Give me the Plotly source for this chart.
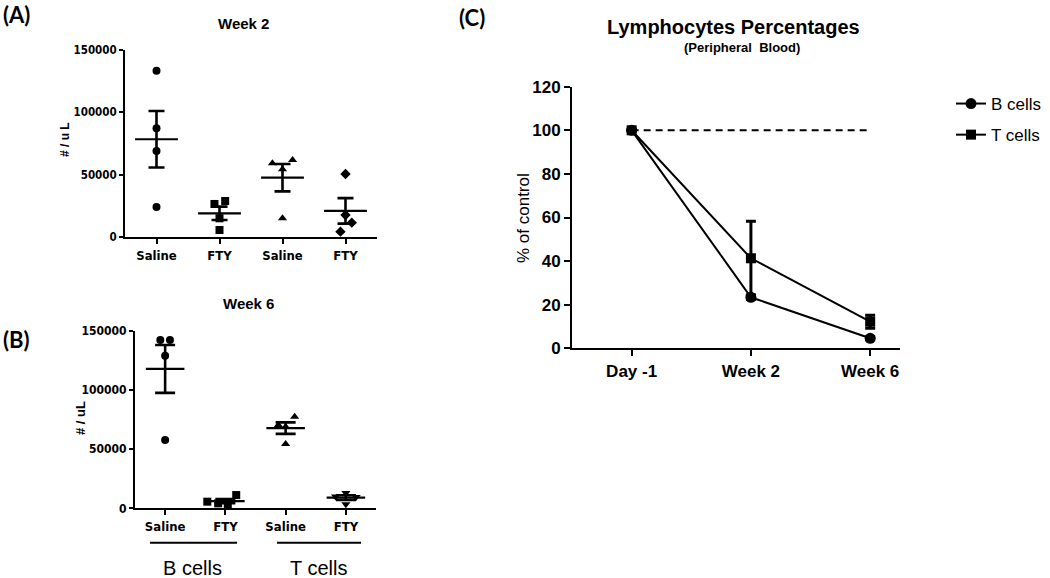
import numpy as np
import plotly.graph_objects as go

# ---------------- data ----------------
group_labels = ["Saline", "FTY", "Saline", "FTY"]

week2_saline_b = [133400, 87200, 69000, 24000]
week2_fty_b = [26500, 28900, 15000, 5600]
week2_saline_t = [59100, 61800, 54300, 15000]
week2_fty_t = [50500, 17600, 11500, 4300]

week6_saline_b = [142400, 142400, 129100, 57800]
week6_fty_b = [5600, 11200, 4200, 3600]
week6_saline_t = [70500, 69000, 77500, 54400]
week6_fty_t = [13000, 10000, 9500, 3500]

count_ticks = [0, 50000, 100000, 150000]
count_ticktext = ["0", "50000", "100000", "150000"]

timepoints = ["Day -1", "Week 2", "Week 6"]
b_pct = [100, 23.4, 4.6]
b_pct_sem = [0, 1.0, 0.8]
t_pct = [100, 41.3, 12.2]
t_pct_sem = [0, 17.0, 3.0]
control_pct = [100, 100, 100]
pct_ticks = [0, 20, 40, 60, 80, 100, 120]

# ---------------- style ----------------
W, H = 1050, 578
def px(x):
    return x / W
def py(y):
    return 1 - y / H

NARROW = "DejaVu Sans Condensed, Liberation Sans Narrow, sans-serif"
ARIAL = "Liberation Sans, Arial, sans-serif"
CAL = "Lato, Open Sans, sans-serif"

# horizontal jitter (category units) so overlapping dots are visible
jit_w2 = [[0, 0, 0, 0], [-0.08, 0.09, 0, 0], [-0.16, 0.16, 0, 0], [0, 0, 0.1, -0.08]]
jit_w6 = [[-0.08, 0.08, 0, 0], [-0.3, 0.18, -0.12, 0.04], [-0.12, 0, 0.15, 0], [0, -0.17, 0.17, 0]]

fig = go.Figure()

def add_dot_panel(groups, symbols, jit, xa, ya, cap, mean_hw, msize):
    for i, vals in enumerate(groups):
        v = np.array(vals, dtype=float)
        m = v.mean()
        sem = v.std(ddof=1) / np.sqrt(len(v))
        fig.add_trace(go.Scatter(x=[i - mean_hw, i + mean_hw], y=[m, m], mode="lines",
                                 line=dict(color="black", width=2.2), xaxis=xa, yaxis=ya,
                                 showlegend=False, hoverinfo="skip"))
        fig.add_trace(go.Scatter(x=[i], y=[m], mode="markers",
                                 marker=dict(size=1, color="rgba(0,0,0,0)"),
                                 error_y=dict(type="data", array=[sem], visible=True,
                                              color="black", thickness=2.6, width=cap),
                                 xaxis=xa, yaxis=ya, showlegend=False, hoverinfo="skip"))
        fig.add_trace(go.Scatter(x=[i + j for j in jit[i]], y=vals, mode="markers",
                                 marker=dict(symbol=symbols[i], size=msize, color="black"),
                                 xaxis=xa, yaxis=ya, showlegend=False, cliponaxis=False))

add_dot_panel([week2_saline_b, week2_fty_b, week2_saline_t, week2_fty_t],
              ["circle", "square", "triangle-up", "diamond"], jit_w2, "x", "y", 8, 0.34, 8)
add_dot_panel([week6_saline_b, week6_fty_b, week6_saline_t, week6_fty_t],
              ["circle", "square", "triangle-up", "triangle-down"], jit_w6, "x2", "y2", 10, 0.32, 8)

# panel C
fig.add_trace(go.Scatter(x=[0, 2], y=[control_pct[0], control_pct[2]], mode="lines",
                         line=dict(color="black", width=2, dash="7px,5px"),
                         xaxis="x3", yaxis="y3", showlegend=False, hoverinfo="skip"))
fig.add_trace(go.Scatter(x=[0, 1, 2], y=b_pct, mode="lines+markers", name="B cells",
                         legendgroup="b",
                         line=dict(color="black", width=2),
                         marker=dict(symbol="circle", size=11, color="black"),
                         error_y=dict(type="data", array=b_pct_sem, visible=True,
                                      color="black", thickness=3, width=5),
                         xaxis="x3", yaxis="y3", cliponaxis=False))
fig.add_trace(go.Scatter(x=[0, 1, 2], y=t_pct, mode="lines+markers", name="T cells",
                         legendgroup="t",
                         line=dict(color="black", width=2),
                         marker=dict(symbol="square", size=10, color="black"),
                         error_y=dict(type="data", array=t_pct_sem, visible=True,
                                      color="black", thickness=3, width=5),
                         xaxis="x3", yaxis="y3", cliponaxis=False))

axis_common = dict(showline=True, linecolor="black", linewidth=2, ticks="outside",
                   tickcolor="black", tickwidth=2, showgrid=False, zeroline=False,
                   mirror=False)

fig.update_layout(
    width=W, height=H, margin=dict(l=0, r=0, t=0, b=0, autoexpand=False),
    paper_bgcolor="white", plot_bgcolor="white",
    xaxis=dict(domain=[px(125), px(377)], range=[-0.5, 3.5], anchor="y",
               tickvals=[0, 1, 2, 3], ticktext=group_labels, ticklen=5,
               tickfont=dict(family=NARROW, size=13, color="black", weight="bold"), **axis_common),
    yaxis=dict(domain=[py(237), py(50)], range=[0, 150000], anchor="x",
               tickvals=count_ticks, ticktext=count_ticktext, ticklen=4,
               tickfont=dict(family=NARROW, size=11.5, color="black", weight="bold"), **axis_common),
    xaxis2=dict(domain=[px(135), px(376)], range=[-0.5, 3.5], anchor="y2",
                tickvals=[0, 1, 2, 3], ticktext=group_labels, ticklen=5,
                tickfont=dict(family=NARROW, size=13, color="black", weight="bold"), **axis_common),
    yaxis2=dict(domain=[py(508.3), py(331)], range=[0, 150000], anchor="x2",
                tickvals=count_ticks, ticktext=count_ticktext, ticklen=4,
                tickfont=dict(family=NARROW, size=12, color="black", weight="bold"), **axis_common),
    xaxis3=dict(domain=[px(572), px(900)], range=[-0.5, 2.25], anchor="y3",
                tickvals=[0, 1, 2], ticktext=timepoints, ticklen=6,
                tickfont=dict(family=ARIAL, size=17, color="black", weight="bold"), **axis_common),
    yaxis3=dict(domain=[py(348.3), py(86.7)], range=[0, 120], anchor="x3",
                tickvals=pct_ticks, ticklen=6,
                tickfont=dict(family=ARIAL, size=17, color="black", weight="bold"), **axis_common),
    legend=dict(x=px(951), y=py(86), xanchor="left", yanchor="top",
                font=dict(family=ARIAL, size=17, color="black"), itemwidth=30,
                tracegroupgap=6, bgcolor="rgba(0,0,0,0)"),
)

ann = []
def txt(x, y, s, size, family, bold=False, angle=0, xanchor="center"):
    ann.append(dict(x=px(x), y=py(y), xref="paper", yref="paper", text=s, showarrow=False,
                    xanchor=xanchor, yanchor="middle", textangle=angle,
                    font=dict(family=family, size=size, color="black",
                              weight="bold" if bold else "normal")))

txt(16, 15, "(A)", 22, CAL, True)
txt(16, 339, "(B)", 22, CAL, True)
txt(472, 17, "(C)", 22, CAL, True)
txt(243, 23, "Week 2", 15, ARIAL, True)
txt(248, 303, "Week 6", 15, ARIAL, True)
txt(65, 140, "# / u L", 12, ARIAL, True, -90)
txt(80, 418, "# / uL", 13, ARIAL, True, -90)
txt(733, 27, "Lymphocytes Percentages", 20, ARIAL, True)
txt(742, 47, "(Peripheral  Blood)", 13, ARIAL, True)
txt(523, 218, "% of control", 17, ARIAL, False, -90)
txt(192, 568, "B cells", 20, ARIAL)
txt(318, 568, "T cells", 20, ARIAL)
fig.update_layout(annotations=ann)

fig.add_shape(type="line", xref="paper", yref="paper", x0=px(150), x1=px(237),
              y0=py(542.7), y1=py(542.7), line=dict(color="black", width=2))
fig.add_shape(type="line", xref="paper", yref="paper", x0=px(277), x1=px(361),
              y0=py(542.7), y1=py(542.7), line=dict(color="black", width=2))

fig.write_html("out.html", config={"displayModeBar": False},
               post_script="document.body.style.margin='0px';")
